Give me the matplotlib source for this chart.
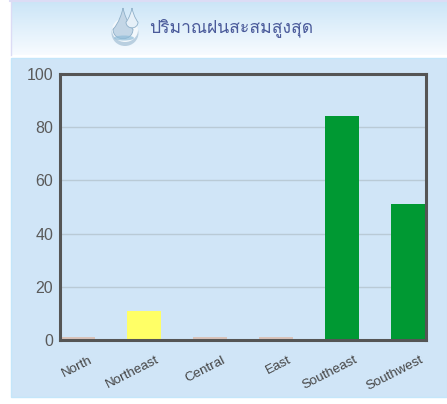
import numpy as np
import matplotlib
matplotlib.use('Agg')
import matplotlib.pyplot as plt
from matplotlib import font_manager
from matplotlib.patches import Rectangle, PathPatch, Ellipse
from matplotlib.path import Path
from matplotlib.transforms import ScaledTranslation

regions = ['North', 'Northeast', 'Central', 'East', 'Southeast', 'Southwest']
rain = [1.2, 11, 1.2, 1.0, 84.3, 51.2]
bar_colors = ['#d9c3ba', '#ffff66', '#d9c3ba', '#d9c3ba', '#009933', '#009933']
yticks = [0, 20, 40, 60, 80, 100]
title = 'ปริมาณฝนสะสมสูงสุด'

W, H = 447, 404

# which installed fonts can draw thai?
thai = None
for f in font_manager.fontManager.ttflist:
    try:
        if 0x0E1B in font_manager.get_font(f.fname).get_charmap():
            thai = f.name
            break
    except Exception:
        pass

fig = plt.figure(figsize=(W / 100, H / 100), dpi=100, facecolor='white')

# page background in pixel coordinates
bg = fig.add_axes([0, 0, 1, 1], zorder=0)
grad = np.linspace(0, 1, 64).reshape(-1, 1)
top_c = np.array([0.80, 0.90, 0.97])
bot_c = np.array([0.97, 0.985, 1.0])
img = top_c + (bot_c - top_c) * grad[:, :, None]
bg.imshow(img, extent=(11, W, 55, 2), aspect='auto', zorder=1)
bg.set_xlim(0, W)
bg.set_ylim(H, 0)
bg.axis('off')
bg.add_patch(Rectangle((11, 58), W - 11, 339, fc='#d0e5f7', ec='#c4e6fa', lw=1, zorder=1))
bg.plot([10, W], [1, 1], color='#dcdcf5', lw=1.5, zorder=2)
bg.plot([10.5, 10.5], [1, 55], color='#dcdcf5', lw=1, zorder=2)

# droplet icon
def drop(cx, top, bottom, w, **kw):
    verts = [(cx, top), (cx + w * 0.3, top + (bottom - top) * 0.45), (cx + w, bottom - w * 0.9), (cx + w, bottom - w),
             (cx + w, bottom + w * 0.3), (cx - w, bottom + w * 0.3), (cx - w, bottom - w),
             (cx - w, bottom - w * 0.9), (cx - w * 0.3, top + (bottom - top) * 0.45), (cx, top)]
    codes = [Path.MOVETO] + [Path.CURVE4] * 9
    bg.add_patch(PathPatch(Path(verts, codes), **kw))

bg.add_patch(Ellipse((125, 33), 27, 26, fc='#b9cfe0', ec='none', zorder=3))
bg.add_patch(Ellipse((125, 30), 26, 24, fc='#f3f8fc', ec='none', zorder=3))
drop(123, 8, 39, 10, fc='#c3d6e6', ec='#8fb0c9', lw=0.6, zorder=4)
drop(132, 8, 28, 6, fc='#e6f0f8', ec='#8fb0c9', lw=0.6, zorder=5)
bg.add_patch(Ellipse((124, 38), 20, 5, fc='#8fbcd8', ec='none', alpha=0.7, zorder=6))

fam = [thai, 'DejaVu Sans'] if thai else ['DejaVu Sans']
bg.text(231.5, 28, title, family=fam, fontsize=12.6, color='#4a5a9a', ha='center', va='center', zorder=7)

# chart
L, R, T, B = 60, 426, 74, 340
ax = fig.add_axes([L / W, 1 - B / H, (R - L) / W, (B - T) / H], zorder=2)
ax.patch.set_alpha(0)
x = np.arange(len(regions))
ax.bar(x, rain, width=0.52, color=bar_colors, zorder=2)
ax.set_xlim(-0.27, 5.27)
ax.set_ylim(0, 100)
ax.set_yticks(yticks)
ax.yaxis.grid(True, color='#b9cad6', lw=1)
ax.set_axisbelow(True)
ax.tick_params(axis='y', length=0, pad=5, labelsize=11.5, labelcolor='#5a5a5a')
ax.tick_params(axis='x', length=0, pad=10, labelsize=9.6, labelcolor='#444444')
ax.set_xticks(x)
ax.set_xticklabels(regions, rotation=27, ha='right', rotation_mode='default', family='Liberation Sans')
shift = ScaledTranslation(17 / 100, 0, fig.dpi_scale_trans)
for lab in ax.get_xticklabels():
    lab.set_transform(lab.get_transform() + shift)
for s in ax.spines.values():
    s.set_color('#555555')
    s.set_linewidth(2.2)
for lab in ax.get_yticklabels():
    lab.set_family('Liberation Sans')

fig.savefig('out.png', dpi=100)
